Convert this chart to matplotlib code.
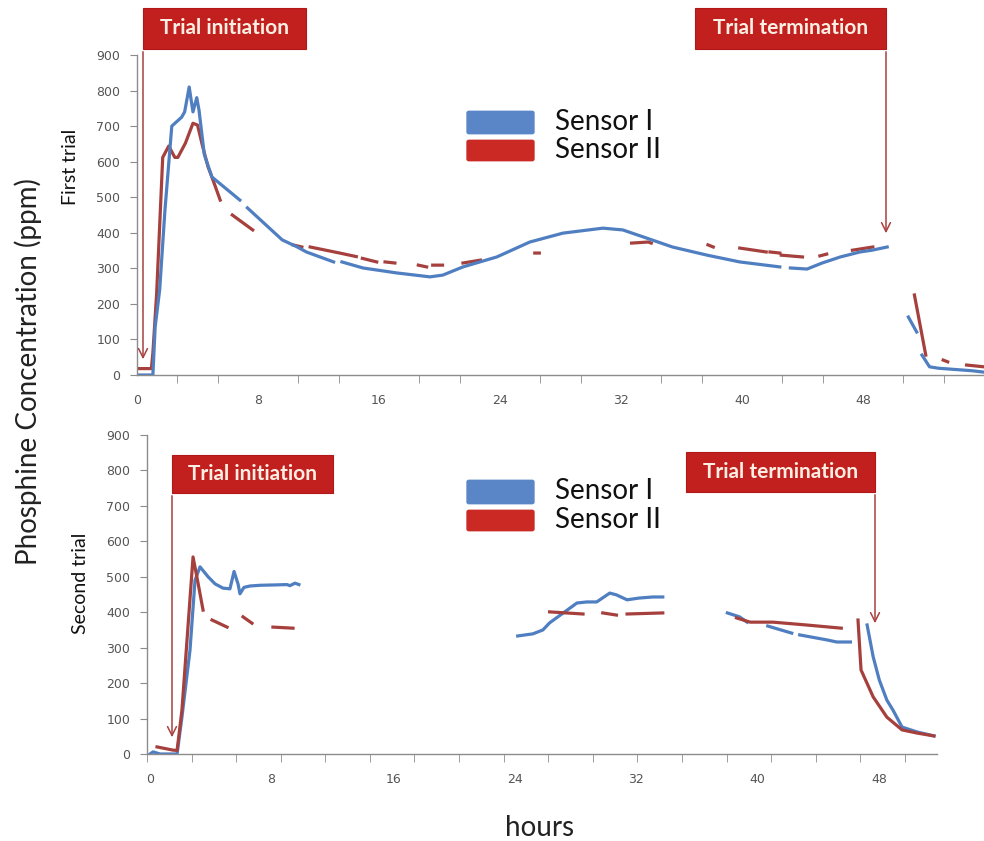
import numpy as np
import matplotlib
matplotlib.use("Agg")
import matplotlib.pyplot as plt
from matplotlib.patches import Rectangle, FancyBboxPatch, FancyArrowPatch

nan = np.nan

# ---- first trial (hours, ppm) ----
t1_s1_h = [0, 1.05, 1.2, 1.5, 1.85, 2.3, 2.95, 3.15, 3.45, 3.7, 3.95, 4.1, 4.45, 4.95, 6.8, nan,
           7.3, 9.6, 10.6, 11.2, 12.1, 13.0, nan,
           13.55, 14.94, 17.18, 19.37, 20.22, 21.55, 23.79, 25.97, 28.16, 30.8, 32.12, 33.7, 35.4,
           37.7, 39.85, 42.5, nan,
           43.2, 44.3, 45.3, 46.5, 47.8, 48.6, 49.6, nan,
           51.0, 51.55, nan,
           51.9, 52.4, 53.0, 55.2, 56.0]
t1_s1_v = [0, 0, 135, 240, 465, 700, 725, 740, 810, 740, 780, 745, 620, 557, 492, nan,
           470, 380, 360, 346, 332, 318, nan,
           318, 301, 287, 276, 281, 304, 332, 374, 399, 413, 408, 385, 360,
           337, 318, 304, nan,
           301, 298, 315, 332, 346, 351, 360, nan,
           163, 121, nan,
           56, 23, 19, 12, 8]

t1_s2_h = [0, 0.95, 1.05, 1.3, 1.7, 2.1, 2.5, 2.7, 3.2, 3.7, 4.0, 4.35, 4.7, 4.95, 5.5, nan,
           6.3, 7.65, nan, 10.3, 10.9, nan, 11.45, 13.4, 14.5, nan, 14.9, 15.85, nan,
           16.4, 17.05, nan, 18.6, 19.15, nan, 19.55, 20.2, nan, 21.55, 22.7, nan,
           26.3, 26.6, nan, 32.7, 33.8, 34.0, nan, 37.75, 38.1, nan, 39.85, 41.6, nan,
           41.85, 42.5, nan, 42.6, 44.0, nan, 45.15, 45.6, nan, 47.3, 48.65, nan,
           51.4, 52.15, nan, 53.3, 53.6, nan, 54.85, 56.0]
t1_s2_v = [18, 18, 62, 230, 612, 644, 612, 612, 652, 708, 703, 641, 585, 557, 492, nan,
           450, 408, nan, 366, 360, nan, 360, 343, 333, nan, 328, 318, nan,
           318, 315, nan, 309, 304, nan, 309, 309, nan, 315, 323, nan,
           343, 343, nan, 371, 374, 371, nan, 366, 360, nan, 357, 346, nan,
           346, 343, nan, 337, 332, nan, 335, 340, nan, 351, 360, nan,
           225, 56, nan, 42, 37, nan, 28, 23]

# ---- second trial (hours, ppm) ----
t2_s1_h = [0, 0.2, 0.66, 1.78, 2.1, 2.63, 2.96, 3.29, 3.82, 4.28, 4.8, 5.26, 5.53, 5.79, 5.92, 6.18,
           6.58, 7.24, 8.22, 9.01, 9.21, 9.54, 9.8, nan,
           24.2, 25.2, 25.86, 26.3, 27.2, 28.1, 28.75, 29.4, 30.26, 30.7, 31.4, 32.2, 33.1, 33.75, nan,
           38.0, 38.8, 39.3, nan, 40.66, 42.24, nan, 42.76, 44.54, 45.2, 46.1, nan,
           47.2, 47.6, 48.0, 48.5, 48.9, 49.5, 50.5, 51.6]
t2_s1_v = [0, 6, 0, 0, 104, 293, 490, 528, 500, 480, 468, 466, 515, 480, 452, 470,
           474, 476, 477, 478, 475, 482, 478, nan,
           333, 339, 350, 370, 398, 426, 429, 429, 454, 449, 435, 440, 443, 443, nan,
           398, 387, 372, nan, 361, 341, nan, 336, 322, 316, 316, nan,
           364, 274, 209, 152, 124, 76, 62, 51]

t2_s2_h = [0.46, 1.5, 1.78, 2.1, 2.83, 3.16, 3.49, nan, 4.08, 5.07, nan, 6.12, 6.71, nan,
           8.09, 9.41, nan, 26.3, 28.5, nan, 29.8, 30.7, nan, 31.4, 33.75, nan,
           38.6, 39.5, 41.0, 43.2, 45.5, nan,
           46.6, 46.8, 47.6, 48.5, 49.5, 50.5, 51.6]
t2_s2_v = [20, 11, 10, 124, 556, 482, 406, nan, 378, 358, nan, 387, 369, nan,
           358, 355, nan, 401, 395, nan, 398, 392, nan, 395, 398, nan,
           384, 372, 372, 364, 355, nan,
           378, 237, 161, 104, 68, 59, 51]

y_ticks = list(range(0, 1000, 100))
x_labels = [0, 8, 16, 24, 32, 40, 48]
series_names = ["Sensor I", "Sensor II"]

BLUE = "#4F7EC1"
RED = "#A5403D"
BOX = "#C21F1F"
GREY = "#8C8C8C"
W, H = 984, 841


def fx(x): return x / W
def fy(y): return 1 - y / H


fig = plt.figure(figsize=(9.84, 8.41), dpi=100)
plt.rcParams['font.family'] = ['DejaVu Sans']


def style_axis(ax, xlim, minor_start, minor_step, n_minor):
    ax.set_xlim(*xlim)
    ax.set_ylim(0, 900)
    for s in ["top", "right"]:
        ax.spines[s].set_visible(False)
    for s in ["left", "bottom"]:
        ax.spines[s].set_color(GREY)
        ax.spines[s].set_linewidth(1.0)
    ax.set_yticks(y_ticks)
    ax.set_xticks(x_labels)
    ax.set_xticks([minor_start + k * minor_step for k in range(n_minor)], minor=True)
    ax.tick_params(axis="y", direction="out", length=5, color=GREY, labelsize=9,
                   labelcolor="#555555", pad=7)
    ax.tick_params(axis="x", which="major", length=0, labelsize=9, labelcolor="#555555", pad=14)
    ax.tick_params(axis="x", which="minor", direction="out", length=6, color=GREY)
    ax.patch.set_alpha(0)


ax1 = fig.add_axes([fx(137), fy(375), (W - 137) / W, 320 / H])
style_axis(ax1, (0, 56), 0, 8 / 3, 22)
ax1.plot(t1_s2_h, t1_s2_v, color=RED, lw=2.3, solid_joinstyle="round")
ax1.plot(t1_s1_h, t1_s1_v, color=BLUE, lw=2.3, solid_joinstyle="round")

ax2 = fig.add_axes([fx(147), fy(754), (937 - 147) / W, 319 / H])
style_axis(ax2, (-0.2, 51.8), -0.2, 44.6 / 15.2, 18)
ax2.plot(t2_s1_h, t2_s1_v, color=BLUE, lw=2.3, solid_joinstyle="round")
ax2.plot(t2_s2_h, t2_s2_v, color=RED, lw=2.3, solid_joinstyle="round")

# axis titles
fig.text(fx(28), fy(372), "Phosphine Concentration (ppm)", rotation=90, ha="center", va="center",
         fontsize=20, family="Lato", color="#222222")
fig.text(fx(70), fy(167), "First trial", rotation=90, ha="center", va="center",
         fontsize=14, family="Lato", color="#111111")
fig.text(fx(80), fy(583), "Second trial", rotation=90, ha="center", va="center",
         fontsize=14, family="Lato", color="#111111")
fig.text(fx(540), fy(828), "hours", ha="center", va="center", fontsize=20, family="Lato",
         color="#222222")

# legends
leg_colors = ["#5A86C8", "#CB2A24"]
for top_rows in ([(113, 132), (142, 159)], [(482, 502), (512, 529)]):
    for (y0, y1), c, name in zip(top_rows, leg_colors, series_names):
        fig.add_artist(FancyBboxPatch((fx(469), fy(y1)), (532 - 469) / W, (y1 - y0) / H,
                                      boxstyle="round,pad=0.002", transform=fig.transFigure,
                                      facecolor=c, edgecolor=c, lw=1))
        fig.text(fx(555), fy((y0 + y1) / 2 - 1), name, ha="left", va="center",
                 fontsize=20, family="Lato", color="#111111")

# trial boxes + arrows
boxes = [
    ("Trial initiation", 143, 306, 8, 49, 143, 362),
    ("Trial termination", 695, 886, 8, 49, 886, 236),
    ("Trial initiation", 172, 333, 455, 493, 172, 740),
    ("Trial termination", 686, 875, 452, 492, 875, 626),
]
for label, x0, x1, y0, y1, ax_x, tip in boxes:
    fig.add_artist(Rectangle((fx(x0), fy(y1)), (x1 - x0) / W, (y1 - y0) / H,
                             transform=fig.transFigure, facecolor=BOX, edgecolor="#B01818", lw=0.8))
    fig.text(fx((x0 + x1) / 2), fy((y0 + y1) / 2), label, ha="center", va="center",
             fontsize=15, fontweight="bold", family="Lato", color="#FBEEE2")
    fig.add_artist(FancyArrowPatch((fx(ax_x), fy(y1)), (fx(ax_x), fy(tip)),
                                   transform=fig.transFigure, arrowstyle="->",
                                   mutation_scale=16, color="#A8413F", lw=1.1))

fig.savefig("out.png", dpi=100)
